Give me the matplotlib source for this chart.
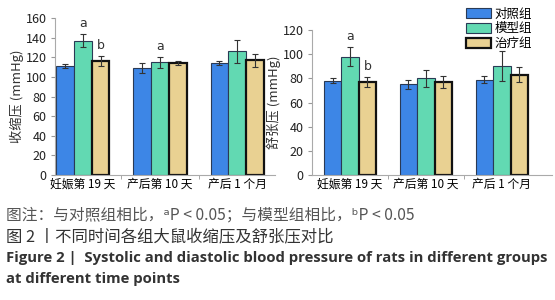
import numpy as np
import matplotlib
matplotlib.use("Agg")
import matplotlib.pyplot as plt

plt.rcParams['font.family'] = ['Noto Sans CJK SC', 'DejaVu Sans']

# 数据
time_labels = ['妊娠第 19 天', '产后第 10 天', '产后 1 个月']
groups = ['对照组', '模型组', '治疗组']
colors = ['#3d86e6', '#62d9b2', '#e9d192']

sbp_control = [111, 109, 114]
sbp_model = [137, 115, 126]
sbp_treat = [116, 114, 117]
sbp_control_err = [2, 5, 2]
sbp_model_err = [6.5, 5.5, 11.5]
sbp_treat_err = [5, 2, 6.5]

dbp_control = [78, 75, 79]
dbp_model = [98, 80, 90]
dbp_treat = [77, 77, 83]
dbp_control_err = [2, 4, 3]
dbp_model_err = [8, 7, 12.5]
dbp_treat_err = [4, 5, 6]

sbp_marks = [(0, 1, 'a'), (0, 2, 'b'), (1, 1, 'a')]
dbp_marks = [(0, 1, 'a'), (0, 2, 'b')]

fig = plt.figure(figsize=(5.55, 3.0), dpi=100)
fig.patch.set_facecolor('white')

W, H = 555, 300
ax1 = fig.add_axes([55 / W, (H - 175) / H, 220 / W, 157 / H])
ax2 = fig.add_axes([312 / W, (H - 175) / H, 240 / W, 145 / H])

x = np.arange(3)
bw = 0.23


def draw(ax, vals, errs, ymax, step, ylabel, marks, xlim):
    for i, (v, e) in enumerate(zip(vals, errs)):
        lw = 1.6 if i == 2 else 0.8
        ec = '#111111' if i == 2 else '#2a3a55'
        ax.bar(x + (i - 1) * bw, v, bw, color=colors[i], edgecolor=ec,
               linewidth=lw, label=groups[i], zorder=2)
        ax.errorbar(x + (i - 1) * bw, v, yerr=e, fmt='none', ecolor='#333333',
                    elinewidth=0.8, capsize=2.5, capthick=0.8, zorder=3)
    for g, i, s in marks:
        top = vals[i][g] + errs[i][g]
        ax.text(g + (i - 1) * bw, top + ymax * 0.025, s, ha='center', va='bottom',
                fontsize=9, color='#333333', family=['DejaVu Sans'])
    ax.set_ylim(0, ymax)
    ax.set_xlim(*xlim)
    ax.set_yticks(np.arange(0, ymax + 1, step))
    ax.set_xticks(x)
    ax.set_xticklabels(time_labels, fontsize=8.5)
    ax.set_xticks([0.5, 1.5], minor=True)
    ax.tick_params(axis='x', which='major', length=0, pad=2)
    ax.tick_params(axis='x', which='minor', length=3, color='#999999')
    ax.tick_params(axis='y', labelsize=9, length=3, color='#999999', pad=3,
                   labelcolor='#222222')
    ax.set_ylabel(ylabel, fontsize=9.5, labelpad=1, color='#333333')
    for sp in ['top', 'right']:
        ax.spines[sp].set_visible(False)
    for sp in ['left', 'bottom']:
        ax.spines[sp].set_color('#aaaaaa')
        ax.spines[sp].set_linewidth(0.8)


draw(ax1, [sbp_control, sbp_model, sbp_treat],
     [sbp_control_err, sbp_model_err, sbp_treat_err],
     160, 20, '收缩压 (mmHg)', sbp_marks, (-0.36, 2.49))
draw(ax2, [dbp_control, dbp_model, dbp_treat],
     [dbp_control_err, dbp_model_err, dbp_treat_err],
     120, 20, '舒张压 (mmHg)', dbp_marks, (-0.5, 2.66))

ax2.legend(loc='upper left', bbox_to_anchor=(458 / W, 1.0), bbox_transform=fig.transFigure,
           fontsize=9, frameon=False, handlelength=2.0, handleheight=0.8,
           labelspacing=0.15, borderpad=0.1, handletextpad=0.3)

fig.text(6 / W, 1 - 215 / H, '图注：与对照组相比，ᵃP < 0.05；与模型组相比，ᵇP < 0.05',
         fontsize=11.3, color='#555555', va='center')
fig.text(6 / W, 1 - 237 / H, '图 2 丨不同时间各组大鼠收缩压及舒张压对比',
         fontsize=11.8, color='#333333', va='center')
fig.text(6 / W, 1 - 258 / H, 'Figure 2 |  Systolic and diastolic blood pressure of rats in different groups',
         fontsize=10.7, color='#333333', va='center', fontweight='bold', family=['Open Sans'])
fig.text(6 / W, 1 - 279 / H, 'at different time points',
         fontsize=10.7, color='#333333', va='center', fontweight='bold', family=['Open Sans'])

fig.savefig('out.png', dpi=100, facecolor='white')
